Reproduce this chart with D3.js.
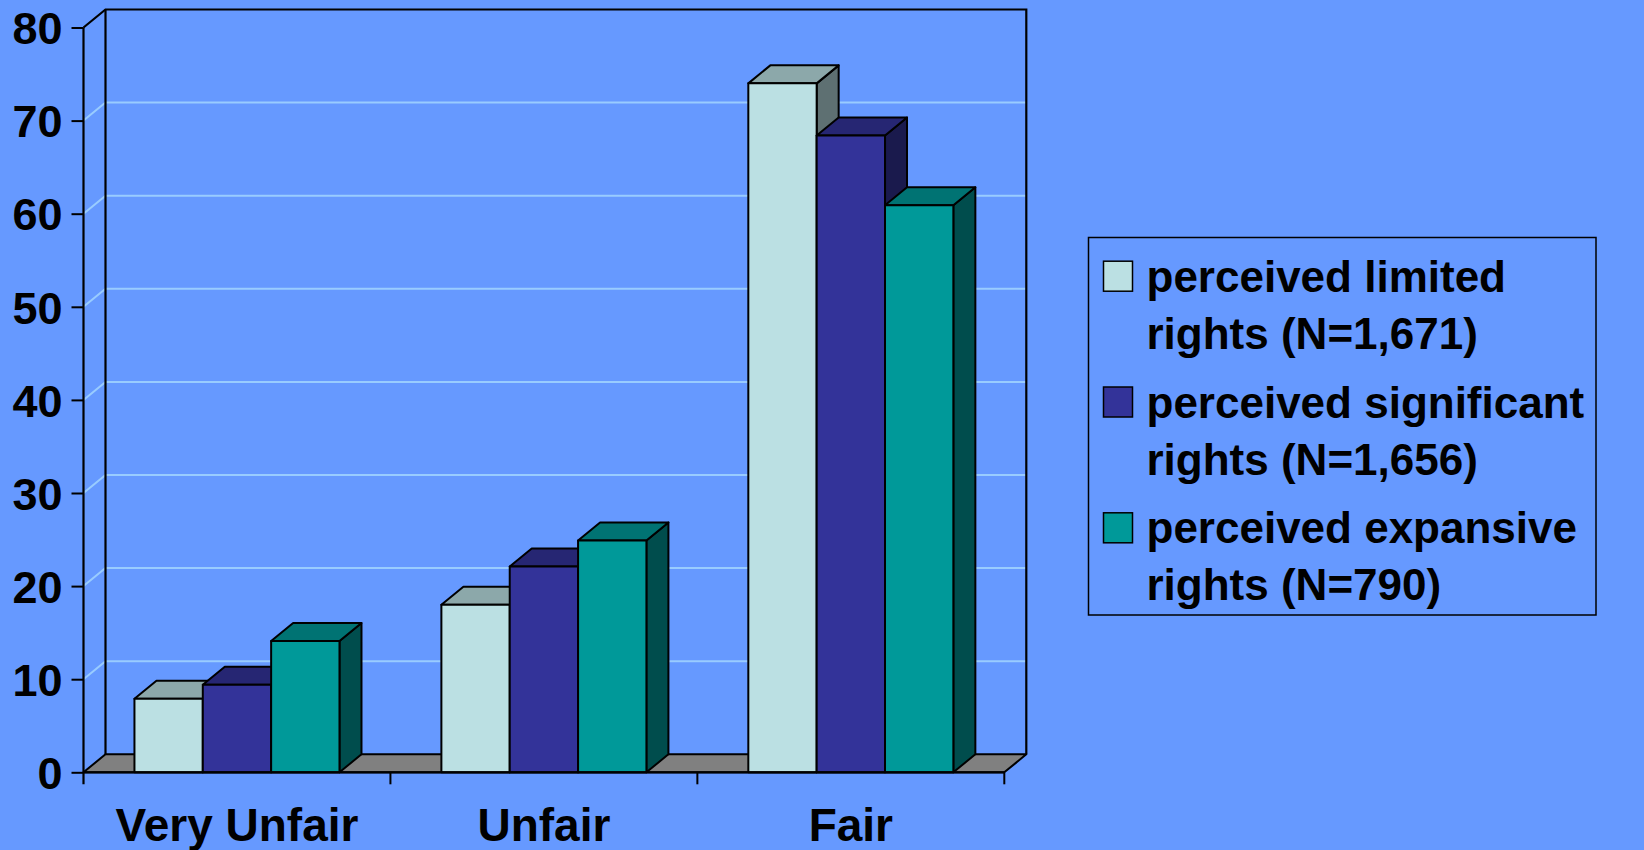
<!DOCTYPE html>
<html>
<head>
<meta charset="utf-8">
<script src="https://cdn.jsdelivr.net/npm/d3@7"></script>
<style>
  html, body { margin: 0; padding: 0; background: #6699FF; }
  svg { display: block; }
  text { font-family: "Liberation Sans", Arial, sans-serif; font-weight: bold; fill: #000; }
</style>
</head>
<body>
<script>
// Survey results: perceived fairness by perceived extent of rights
const categories = ["Very Unfair", "Unfair", "Fair"];
const seriesNames = [
  ["perceived limited", "rights (N=1,671)"],
  ["perceived significant", "rights (N=1,656)"],
  ["perceived expansive", "rights (N=790)"]
];
const limitedRights = [7.9, 18.0, 74.0];
const significantRights = [9.4, 22.1, 68.4];
const expansiveRights = [14.1, 24.9, 60.9];
const yTicks = [0, 10, 20, 30, 40, 50, 60, 70, 80];

const seriesValues = [limitedRights, significantRights, expansiveRights];

// front, top and side face colours per series
const palette = [
  { front: "#BBE0E3", top: "#8CA8AA", side: "#5E7072" },
  { front: "#333399", top: "#262673", side: "#1A1A4D" },
  { front: "#009999", top: "#007373", side: "#004D4D" }
];

const W = 1644, H = 850;
const DX = 22, DY = 18; // oblique depth offset

const svg = d3.select("body").append("svg").attr("width", W).attr("height", H);

const y = d3.scaleLinear().domain([0, 80]).range([772.3, 27.5]);
const x = d3.scaleBand().domain(categories).range([83.5, 1004.3])
  .paddingInner(0.332).paddingOuter(0.166);
const xs = d3.scaleBand().domain(d3.range(seriesValues.length)).range([0, x.bandwidth()]);

const x0 = x.range()[0], x1 = x.range()[1];
const yb = y(0), yt = y(80);

const poly = pts => pts.map(p => p.join(",")).join(" ");

// floor
svg.append("polygon")
  .attr("points", poly([[x0, yb], [x0 + DX, yb - DY], [x1 + DX, yb - DY], [x1, yb]]))
  .attr("fill", "#808080").attr("stroke", "#000").attr("stroke-width", 2)
  .attr("stroke-linejoin", "round");

// gridlines on the side wall and back wall
const grid = svg.append("g");
yTicks.filter(t => t > 0 && t < 80).forEach(t => {
  grid.append("polyline")
    .attr("points", poly([[x0, y(t)], [x0 + DX, y(t) - DY], [x1 + DX, y(t) - DY]]))
    .attr("fill", "none").attr("stroke", "#99CCFF").attr("stroke-width", 2);
});

// walls outline
svg.append("polyline")
  .attr("points", poly([[x0, yt], [x0 + DX, yt - DY], [x1 + DX, yt - DY], [x1 + DX, yb - DY]]))
  .attr("fill", "none").attr("stroke", "#000").attr("stroke-width", 2.2);
svg.append("line")
  .attr("x1", x0 + DX).attr("x2", x0 + DX).attr("y1", yt - DY).attr("y2", yb - DY)
  .attr("stroke", "#000").attr("stroke-width", 2.2);

// bars
const bars = svg.append("g");
categories.forEach((c, ci) => {
  seriesValues.forEach((vals, si) => {
    const bx0 = x(c) + xs(si), bx1 = bx0 + xs.bandwidth();
    const by = y(vals[ci]);
    const col = palette[si];
    const g = bars.append("g").attr("stroke", "#000").attr("stroke-width", 2)
      .attr("stroke-linejoin", "round");
    g.append("polygon")
      .attr("points", poly([[bx1, by], [bx1 + DX, by - DY], [bx1 + DX, yb - DY], [bx1, yb]]))
      .attr("fill", col.side);
    g.append("polygon")
      .attr("points", poly([[bx0, by], [bx0 + DX, by - DY], [bx1 + DX, by - DY], [bx1, by]]))
      .attr("fill", col.top);
    g.append("rect")
      .attr("x", bx0).attr("y", by).attr("width", bx1 - bx0).attr("height", yb - by)
      .attr("fill", col.front);
  });
});

// value axis
const yAxis = svg.append("g").attr("transform", `translate(${x0},0)`)
  .call(d3.axisLeft(y).tickValues(yTicks).tickSize(12).tickPadding(9).tickFormat(d3.format("d")));
yAxis.select(".domain").attr("stroke", "#000").attr("stroke-width", 2.2)
  .attr("d", `M0,${yt}V${yb + 12}`);
yAxis.selectAll(".tick line").attr("stroke", "#000").attr("stroke-width", 2);
yAxis.selectAll(".tick text")
  .attr("font-size", 45).attr("font-family", "Liberation Sans, Arial, sans-serif")
  .attr("font-weight", "bold").attr("fill", "#000").attr("dy", "0.36em");

// category axis
const bounds = [x0].concat(categories.map(c => x(c) + x.bandwidth() + x.step() * x.paddingInner() / 2));
const xAxis = svg.append("g");
xAxis.append("line").attr("x1", x0).attr("x2", x1).attr("y1", yb).attr("y2", yb)
  .attr("stroke", "#000").attr("stroke-width", 2.2);
xAxis.selectAll("line.tick").data(bounds.slice(1)).enter().append("line")
  .attr("class", "tick")
  .attr("x1", d => d).attr("x2", d => d).attr("y1", yb).attr("y2", yb + 12)
  .attr("stroke", "#000").attr("stroke-width", 2);
xAxis.selectAll("text").data(categories).enter().append("text")
  .attr("x", c => x(c) + x.bandwidth() / 2)
  .attr("y", 841)
  .attr("text-anchor", "middle")
  .attr("font-size", 46)
  .text(c => c);

// legend
const legend = svg.append("g");
legend.append("rect")
  .attr("x", 1088.5).attr("y", 237.5).attr("width", 507.5).attr("height", 377.5)
  .attr("fill", "none").attr("stroke", "#000").attr("stroke-width", 1.5);
seriesNames.forEach((lines, i) => {
  const base = 291.7 + i * 125.8;
  legend.append("rect")
    .attr("x", 1103.5).attr("y", base - 30.5).attr("width", 29).attr("height", 30)
    .attr("fill", palette[i].front).attr("stroke", "#000").attr("stroke-width", 1.5);
  lines.forEach((t, li) => {
    legend.append("text")
      .attr("x", 1146.5).attr("y", base + li * 57)
      .attr("font-size", 44)
      .text(t);
  });
});
</script>
</body>
</html>
